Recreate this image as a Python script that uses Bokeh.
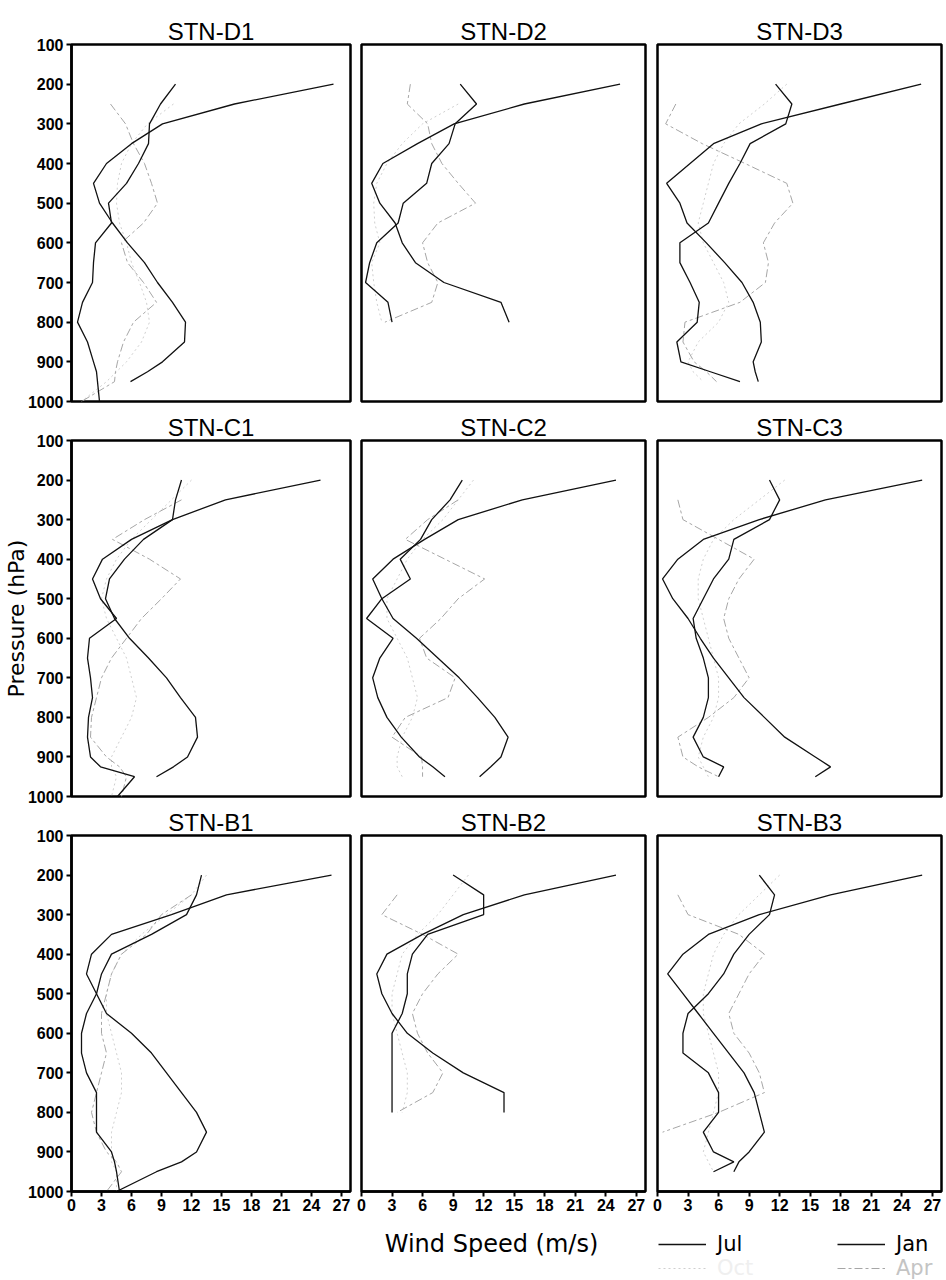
import numpy as np
from bokeh.plotting import figure
from bokeh.layouts import row, column
from bokeh.models import Range1d, FixedTicker, Label, Legend, LegendItem, Title
from bokeh.embed import file_html
from bokeh.resources import INLINE

# Pressure levels (hPa) shared by every profile
levels = [200, 250, 300, 350, 400, 450, 500, 550, 600, 650, 700, 750, 800, 850, 900, 925, 950, 1000]
speed_ticks = [0, 3, 6, 9, 12, 15, 18, 21, 24, 27]
pressure_ticks = [100, 200, 300, 400, 500, 600, 700, 800, 900, 1000]
N = None

stations = ["STN-D1", "STN-D2", "STN-D3",
            "STN-C1", "STN-C2", "STN-C3",
            "STN-B1", "STN-B2", "STN-B3"]

# Mean wind speed (m/s) per level; None = below ground / no data
jan_d1 = [26.2, 16.3, 9.1, 6.0, 3.5, 2.2, 2.8, 4.1, 5.6, 7.3, 8.6, 10.1, 11.4, 11.3, 9.1, 7.6, 5.9, N]
jul_d1 = [10.4, 8.9, 7.8, 7.7, 6.7, 5.5, 3.7, 4.0, 2.4, 2.2, 2.1, 1.1, 0.6, 1.6, 2.2, 2.5, 2.6, 2.8]
apr_d1 = [N, 3.9, 5.4, 6.2, 7.3, 8.0, 8.6, 7.2, 5.0, 5.6, 7.2, 8.5, 6.2, 5.2, 4.6, 4.4, 4.3, 1.0]
oct_d1 = [N, 10.2, 7.6, 6.0, 5.0, 4.6, 4.5, 4.8, 5.5, 6.0, 6.8, 7.5, 7.8, 7.0, 5.5, 4.5, 3.5, 1.0]

jan_d2 = [25.4, 16.0, 9.1, 5.5, 2.1, 1.0, 1.8, 3.3, 4.0, 5.3, 8.1, 13.7, 14.5, N, N, N, N, N]
jul_d2 = [9.7, 11.3, 9.2, 8.6, 6.9, 6.4, 4.1, 3.6, 1.5, 0.8, 0.4, 2.6, 3.0, N, N, N, N, N]
apr_d2 = [4.8, 4.5, 6.5, 6.9, 7.9, 9.5, 11.2, 7.5, 6.0, 6.5, 7.5, 6.9, 2.3, N, N, N, N, N]
oct_d2 = [N, 9.5, 6.0, 4.0, 2.5, 1.5, 1.2, 1.3, 1.8, 1.0, 1.2, 1.5, 2.0, N, N, N, N, N]

jan_d3 = [25.9, 18.0, 10.2, 5.5, 3.2, 0.9, 2.2, 2.9, 4.8, 6.6, 8.3, 9.4, 10.1, 10.2, 9.4, 9.6, 9.9, N]
jul_d3 = [11.6, 13.2, 12.6, 9.1, 8.1, 7.0, 6.0, 5.0, 2.2, 2.2, 3.2, 4.1, 3.9, 1.9, 2.3, 5.2, 8.1, N]
apr_d3 = [N, 1.8, 0.8, 4.4, 8.6, 12.7, 13.3, 11.5, 10.4, 10.9, 10.6, 8.1, 2.7, 2.5, 3.6, 4.8, 5.8, N]
oct_d3 = [12.7, 10.5, 8.0, 6.5, 5.5, 5.0, 4.5, 4.0, 4.5, 5.5, 6.5, 7.0, 6.0, 4.0, 3.0, 3.5, 4.5, N]

jan_c1 = [24.9, 15.4, 10.1, 7.2, 5.3, 3.8, 3.4, 4.3, 5.8, 7.7, 9.5, 10.9, 12.4, 12.6, 11.6, 10.2, 8.5, N]
jul_c1 = [11.0, 10.4, 10.1, 6.0, 3.1, 2.1, 2.9, 4.5, 1.8, 1.6, 1.9, 2.1, 1.7, 1.6, 1.9, 2.9, 6.3, 4.6]
apr_c1 = [N, 11.0, 7.3, 4.1, 7.8, 10.9, 9.0, 7.0, 5.5, 4.0, 3.0, 2.5, 2.0, 1.9, 3.5, 4.8, 5.5, 5.0]
oct_c1 = [12.0, 10.0, 8.0, 6.0, 4.5, 3.5, 3.0, 3.5, 4.5, 5.5, 6.0, 6.5, 6.0, 5.0, 4.0, 4.0, 4.5, 4.0]

jan_c2 = [25.0, 15.8, 9.5, 6.2, 3.1, 1.1, 2.0, 3.1, 5.4, 7.5, 9.6, 11.4, 13.1, 14.4, 13.7, 12.7, 11.6, N]
jul_c2 = [9.9, 8.7, 6.9, 5.8, 3.8, 4.8, 2.0, 0.5, 3.1, 1.8, 1.1, 1.6, 2.5, 3.9, 5.7, 7.0, 8.2, N]
apr_c2 = [N, 9.5, 6.5, 4.3, 8.2, 12.1, 9.5, 7.8, 5.7, 6.4, 9.2, 8.5, 4.3, 3.0, 5.9, 6.0, 6.0, N]
oct_c2 = [11.0, 9.5, 8.0, 6.0, 4.5, 3.5, 2.5, 2.5, 3.5, 4.5, 5.0, 5.5, 5.0, 4.0, 3.5, 3.5, 4.0, N]

jan_c3 = [26.0, 16.5, 10.0, 4.5, 2.0, 0.5, 1.5, 3.0, 4.2, 5.5, 7.0, 8.5, 10.5, 12.5, 15.5, 17.0, 15.5, N]
jul_c3 = [11.0, 12.0, 11.0, 7.5, 7.0, 5.5, 4.5, 3.5, 3.8, 4.5, 5.0, 5.0, 4.5, 3.5, 4.5, 6.5, 6.0, N]
apr_c3 = [N, 2.0, 2.5, 6.0, 9.5, 8.0, 7.0, 6.5, 7.0, 8.0, 9.0, 7.5, 5.0, 2.0, 2.5, 4.0, 6.0, N]
oct_c3 = [12.5, 10.0, 7.5, 5.5, 4.5, 4.0, 4.0, 4.5, 5.0, 5.5, 6.0, 6.0, 5.5, 4.5, 4.0, 4.5, 5.0, N]

jan_b1 = [26.0, 15.5, 10.0, 4.0, 2.0, 1.5, 2.5, 3.5, 6.0, 8.0, 9.5, 11.0, 12.5, 13.5, 12.5, 11.0, 8.5, 4.5]
jul_b1 = [13.0, 12.5, 11.5, 8.0, 4.0, 3.0, 2.5, 1.5, 1.0, 1.0, 1.5, 2.5, 2.5, 2.5, 4.0, 4.3, 4.5, 4.8]
apr_b1 = [N, 12.0, 9.0, 7.5, 5.0, 4.0, 3.5, 3.0, 3.0, 3.5, 3.0, 2.5, 2.0, 2.5, 3.5, 4.5, 5.0, 3.5]
oct_b1 = [13.5, 12.0, 9.5, 7.0, 5.0, 4.0, 3.5, 3.5, 4.0, 4.5, 5.0, 5.0, 4.5, 4.0, 4.0, 4.0, 4.5, 4.5]

jan_b2 = [25.0, 16.0, 10.0, 6.0, 2.5, 1.5, 2.0, 3.0, 4.5, 7.0, 10.0, 14.0, 14.0, N, N, N, N, N]
jul_b2 = [9.0, 12.0, 12.0, 6.5, 5.0, 4.5, 4.5, 4.0, 3.0, 3.0, 3.0, 3.0, 3.0, N, N, N, N, N]
apr_b2 = [N, 3.5, 2.0, 6.0, 9.5, 7.5, 6.0, 5.0, 5.5, 6.5, 8.0, 7.0, 3.5, N, N, N, N, N]
oct_b2 = [10.5, 9.0, 7.5, 5.5, 4.0, 3.5, 3.0, 3.0, 3.5, 4.0, 4.5, 4.5, 4.0, N, N, N, N, N]

jan_b3 = [26.0, 17.0, 10.0, 5.0, 2.5, 1.0, 2.5, 4.0, 5.5, 7.0, 8.5, 9.5, 10.0, 10.5, 9.0, 8.0, 7.5, N]
jul_b3 = [10.0, 11.5, 11.0, 9.0, 7.5, 6.5, 5.0, 3.0, 2.5, 2.5, 5.0, 6.0, 6.0, 4.5, 5.5, 7.5, 5.5, N]
apr_b3 = [N, 2.0, 3.0, 8.0, 10.5, 9.0, 8.0, 7.0, 7.5, 9.0, 10.0, 10.5, 6.0, 0.5, N, N, N, N]
oct_b3 = [12.0, 10.0, 8.0, 6.5, 5.5, 5.0, 4.5, 4.5, 5.0, 5.5, 6.0, 6.0, 5.5, 5.0, 4.5, 5.0, 5.5, N]

jan_all = [jan_d1, jan_d2, jan_d3, jan_c1, jan_c2, jan_c3, jan_b1, jan_b2, jan_b3]
jul_all = [jul_d1, jul_d2, jul_d3, jul_c1, jul_c2, jul_c3, jul_b1, jul_b2, jul_b3]
apr_all = [apr_d1, apr_d2, apr_d3, apr_c1, apr_c2, apr_c3, apr_b1, apr_b2, apr_b3]
oct_all = [oct_d1, oct_d2, oct_d3, oct_c1, oct_c2, oct_c3, oct_b1, oct_b2, oct_b3]

# Panel geometry (pixels): per-column side borders, per-row top/bottom borders
FRAME_W = [279, 284, 284]
BORDER_L = [71, 5, 6]
BORDER_R = [6, 6, 5]
FRAME_H = 357
BORDER_T = [44, 28, 28]
BORDER_B = [10, 10, 32]
X_MAX = 27.9

TICK_FONT = "Liberation Sans"
TEXT_FONT = "DejaVu Sans"
BLACK = "#111111"
APR_COLOR = "#a6a6a6"
OCT_COLOR = "#cfcfcf"


def as_float(vals):
    return np.array([np.nan if v is None else v for v in vals], dtype=float)


def style_axis(ax, ticks):
    ax.ticker = FixedTicker(ticks=ticks)
    ax.major_tick_out = 5
    ax.major_tick_in = 0
    ax.major_tick_line_width = 2
    ax.minor_tick_line_color = None
    ax.axis_line_width = 2.5
    ax.major_label_standoff = 3
    ax.major_label_text_font = TICK_FONT
    ax.major_label_text_font_style = "bold"
    ax.major_label_text_font_size = "16px"
    ax.major_label_text_color = "black"


def make_panel(r, c, idx):
    p = figure(width=BORDER_L[c] + FRAME_W[c] + BORDER_R[c],
               height=BORDER_T[r] + FRAME_H + BORDER_B[r],
               x_range=Range1d(0, X_MAX), y_range=Range1d(1000, 100),
               min_border_left=BORDER_L[c], min_border_right=BORDER_R[c],
               min_border_top=BORDER_T[r], min_border_bottom=BORDER_B[r],
               output_backend="svg", toolbar_location=None)
    p.grid.visible = False
    p.outline_line_color = "black"
    p.outline_line_width = 2.5
    p.background_fill_color = "white"
    p.border_fill_color = "white"

    p.title = Title(text=stations[idx], align="center", standoff=0,
                    text_font="Liberation Sans", text_font_size="24px",
                    text_font_style="normal", text_color="black")

    if c == 0:
        style_axis(p.yaxis[0], pressure_ticks)
        if r == 1:
            p.yaxis[0].axis_label = "Pressure (hPa)"
            p.yaxis[0].axis_label_standoff = -4
            p.yaxis[0].axis_label_text_font = TEXT_FONT
            p.yaxis[0].axis_label_text_font_size = "22px"
            p.yaxis[0].axis_label_text_font_style = "normal"
            p.yaxis[0].axis_label_text_color = "black"
    else:
        p.yaxis.visible = False

    if r == 2:
        style_axis(p.xaxis[0], speed_ticks)
        p.xaxis[0].major_label_standoff = 2
    else:
        p.xaxis.visible = False

    p.line(as_float(oct_all[idx]), levels, line_color=OCT_COLOR, line_width=1, line_dash="2 3")
    p.line(as_float(apr_all[idx]), levels, line_color=APR_COLOR, line_width=1, line_dash="8 3 3 3")
    p.line(as_float(jul_all[idx]), levels, line_color=BLACK, line_width=1.3)
    p.line(as_float(jan_all[idx]), levels, line_color=BLACK, line_width=1.3)
    return p


rows = []
for r in range(3):
    rows.append(row([make_panel(r, c, r * 3 + c) for c in range(3)], spacing=0))
grid_h = sum(BORDER_T) + 3 * FRAME_H + sum(BORDER_B)

# Bottom strip: speed-axis title and month key
bot_h = 1280 - grid_h
bot = figure(width=946, height=bot_h, x_range=Range1d(0, 946), y_range=Range1d(0, bot_h),
             min_border=0, output_backend="svg", toolbar_location=None)
bot.axis.visible = False
bot.grid.visible = False
bot.outline_line_color = None
bot.add_layout(Label(x=491, y=37, text="Wind Speed (m/s)", text_align="center",
                     text_baseline="middle", text_font=TEXT_FONT, text_font_size="24px",
                     text_color="black"))

key_styles = [("Jul", BLACK, "solid", 1.3, "black", 658, 24),
              ("Jan", BLACK, "solid", 1.3, "black", 837, 24),
              ("Oct", OCT_COLOR, "2 3", 1.0, "#efefef", 658, 0),
              ("Apr", APR_COLOR, "8 3 3 3", 1.0, "#c4c4c4", 837, 0)]
for label, color, dash, lw, tcolor, lx, ly in key_styles:
    rnd = bot.line([np.nan], [np.nan], line_color=color, line_dash=dash, line_width=lw)
    leg = Legend(items=[LegendItem(label=label, renderers=[rnd])], location=(lx, ly),
                 orientation="vertical", glyph_width=48, glyph_height=22,
                 label_standoff=11, padding=0, margin=0, border_line_color=None,
                 background_fill_alpha=0, label_text_font=TEXT_FONT,
                 label_text_font_size="21px", label_text_color=tcolor)
    bot.add_layout(leg)

layout = column(rows + [bot], spacing=0)
open("out.html", "w").write(file_html(layout, INLINE))
